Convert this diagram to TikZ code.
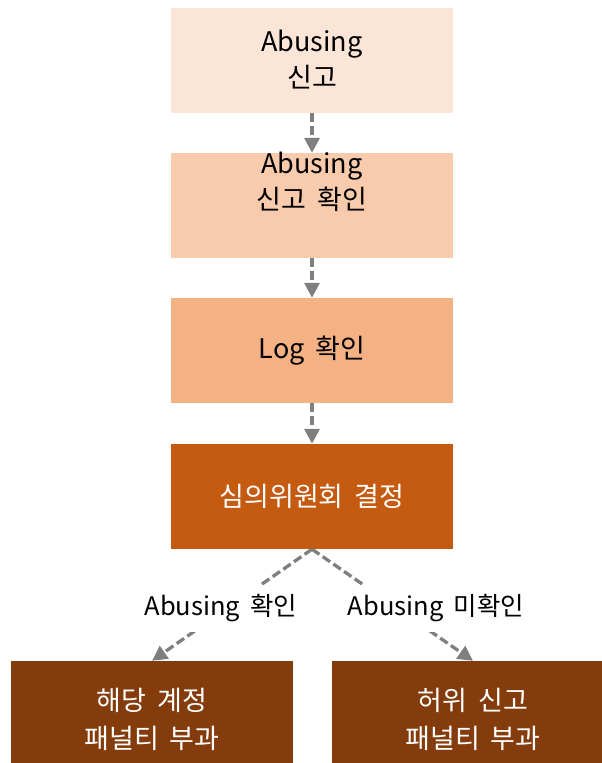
\documentclass[tikz,border=0pt]{standalone}
\usepackage{fontspec}
\setmainfont[WordSpace=1.8]{Noto Sans CJK KR}
\usetikzlibrary{arrows.meta}
\definecolor{peachlight}{HTML}{FBE5D6}
\definecolor{peachmid}{HTML}{F8CBAD}
\definecolor{peachdark}{HTML}{F4B183}
\definecolor{rust}{HTML}{C55A11}
\definecolor{darkbrown}{HTML}{843C0C}
\definecolor{arrowgray}{HTML}{7F7F7F}

\begin{document}
\begin{tikzpicture}[x=1pt, y=-1pt,
box/.style={minimum width=282pt, minimum height=105pt, inner sep=0pt, align=center, font=\fontsize{27}{36}\selectfont},
flow/.style={draw=arrowgray, line width=3.3pt, dash pattern=on 9pt off 4pt, -{Triangle[length=15pt,width=15pt]}},
tag/.style={fill=white, minimum height=47pt, inner xsep=4pt, font=\fontsize{25.5}{30}\selectfont}]

\useasboundingbox (0,0) rectangle (602,763);

\node[box, fill=peachlight] (report) at (312,60) {Abusing\\신고};
\node[box, fill=peachmid] (check) at (312,205.5) {};
\node[align=center, font=\fontsize{27}{36}\selectfont] (checktext) at ([yshift=24pt]check.center) {Abusing\\신고 확인};
\node[box, fill=peachdark] (log) at (312,350.5) {Log 확인};
\node[box, fill=rust, text=white] (decide) at (312,496.5) {심의위원회 결정};
\node[box, fill=darkbrown, text=white, minimum height=116pt, font=\fontsize{27}{38}\selectfont] (penalty) at (152,719) {해당 계정\\패널티 부과};
\node[box, fill=darkbrown, text=white, minimum height=116pt, font=\fontsize{27}{38}\selectfont] (falsereport) at (473,719) {허위 신고\\패널티 부과};

\draw[flow] (report) -- (check);
\draw[flow] (check) -- (log);
\draw[flow] (log) -- (decide);
\draw[flow] (decide.south) -- (penalty.north);
\draw[flow] (decide.south) -- (falsereport.north);

\node[tag] (found) at (221,608) {Abusing 확인};
\node[tag] (notfound) at (436,608) {Abusing 미확인};
\end{tikzpicture}
\end{document}
